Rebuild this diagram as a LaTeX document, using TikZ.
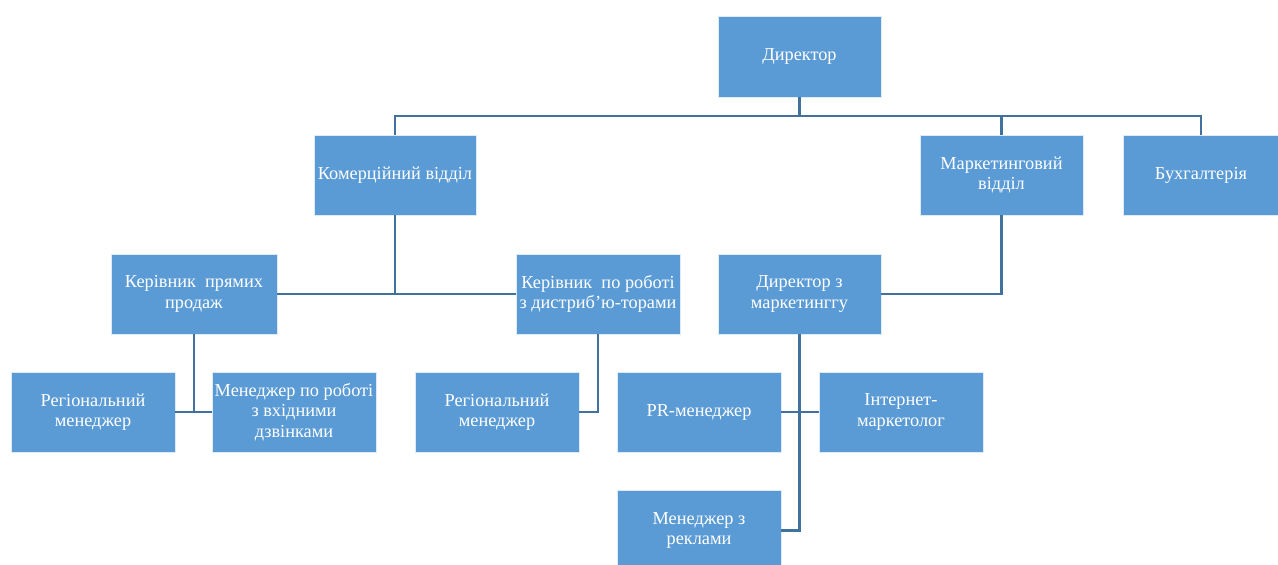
\documentclass[tikz,border=0pt]{standalone}
\usepackage{fontspec}
\setmainfont{Liberation Serif}
\definecolor{boxblue}{HTML}{5B9BD5}
\definecolor{lineblue}{HTML}{41719C}
\begin{document}
\begin{tikzpicture}[x=1pt,y=-1pt,
  unit/.style={fill=boxblue, draw=white!80!boxblue, line width=0.6pt, text=white, align=center,
    font=\fontsize{18.3}{20.5}\selectfont, inner sep=0.5pt},
  conn/.style={draw=lineblue, line width=2.8pt}]
\useasboundingbox (0,0) rectangle (1278,565);
% boxes
\node[unit, minimum width=163, minimum height=81] (dir) at (799.5,56.5) {Директор};
\node[unit, minimum width=162, minimum height=80] (kom) at (395,175) {Комерційний відділ};
\node[unit, minimum width=163, minimum height=80] (mark) at (1001.5,175) {Маркетинговий\\відділ};
\node[unit, minimum width=156, minimum height=80] (buh) at (1201,175) {Бухгалтерія};
\node[unit, minimum width=166, minimum height=80] (kpp) at (194,294) {Керівник\ \ прямих\\продаж};
\node[unit, minimum width=164, minimum height=80] (krd) at (598,294) {Керівник\ \ по роботі\\з дистриб’ю-торами};
\node[unit, minimum width=163, minimum height=80] (dm) at (799.5,294) {Директор з\\маркетинггу};
\node[unit, minimum width=164, minimum height=80] (rm1) at (93,412) {Регіональний\\менеджер};
\node[unit, minimum width=164, minimum height=80] (mvd) at (294,412) {Менеджер по роботі\\з вхідними\\дзвінками};
\node[unit, minimum width=164, minimum height=80] (rm2) at (497,412) {Регіональний\\менеджер};
\node[unit, minimum width=164, minimum height=80] (pr) at (699,412) {PR-менеджер};
\node[unit, minimum width=164, minimum height=80] (im) at (901,412) {Інтернет-\\маркетолог};
\node[unit, minimum width=164, minimum height=80, anchor=north] (mr) at (699,490) {Менеджер з\\реклами};
% connectors
\coordinate (bus) at (800,116);
\draw[conn] (dir.south) -- (dir.south |- bus);
\draw[conn] (kom.north) |- (buh.north |- bus) -- (buh.north);
\draw[conn] (mark.north) -- (mark.north |- bus);
\draw[conn] (kom.south) -- (kom.south |- kpp.east);
\draw[conn] (kpp.east) -- (krd.west);
\draw[conn] (mark.south) |- (dm.east);
\draw[conn] (kpp.south) -- (kpp.south |- rm1.east);
\draw[conn] (rm1.east) -- (mvd.west);
\draw[conn] (krd.south) |- (rm2.east);
\draw[conn] (dm.south) |- (mr.east);
\draw[conn] (pr.east) -- (im.west);
\end{tikzpicture}
\end{document}
